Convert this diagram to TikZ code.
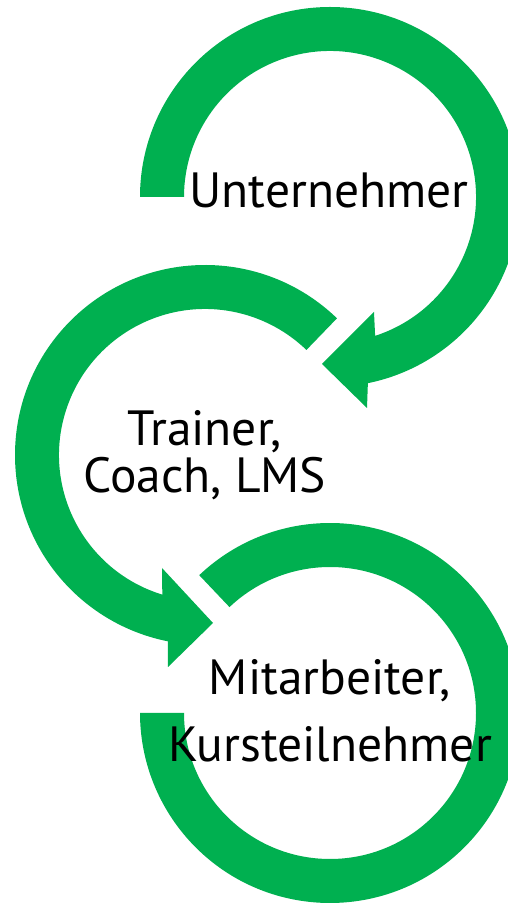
\documentclass[tikz,border=0pt]{standalone}
\usepackage{fontspec}
\setmainfont{PT Sans}
\usetikzlibrary{calc}

\definecolor{ringgreen}{RGB}{0,176,80}
\tikzstyle{ring} = [fill=ringgreen,draw=none]
\tikzstyle{role} = [font=\fontsize{49.5}{47}\selectfont,align=center,anchor=base,inner sep=0pt]
\tikzstyle{roletall} = [role,font=\fontsize{49.5}{67}\selectfont]

\begin{document}
\begin{tikzpicture}[x=1pt,y=1pt]
	\useasboundingbox (0,0) rectangle (508,903);
	\clip (0,0) rectangle (508,903);
	\coordinate (c1) at (330,706);
	\coordinate (c2) at (205,448);
	\coordinate (c3) at (330,190);
	
	% top ring
	\fill[ring] ($(c1)+(180:190)$) arc[start angle=180,end angle=-78.5,radius=190]
		-- (367,495) -- (322,539) -- (374,591)
		-- ($(c1)+(-72:146)$) arc[start angle=-72,end angle=180,radius=146] -- cycle;
	% middle ring
	\fill[ring] ($(c2)+(46:190)$) arc[start angle=46,end angle=258.7,radius=190]
		-- (168,236) -- (213,280) -- (162,335)
		-- ($(c2)+(253:146)$) arc[start angle=253,end angle=46,radius=146] -- cycle;
	% bottom ring
	\fill[ring] ($(c3)+(133.5:190)$) arc[start angle=133.5,end angle=-180,radius=190]
		-- ($(c3)+(180:146)$) arc[start angle=-180,end angle=133.5,radius=146] -- cycle;
	
	\node[role] (boss) at (329,695) {Unternehmer};
	\node[role] (trainer) at (205,410) {Trainer,\\Coach, LMS};
	\node[roletall] (staff) at (330,141) {Mitarbeiter,\\Kursteilnehmer};
\end{tikzpicture}
\end{document}
